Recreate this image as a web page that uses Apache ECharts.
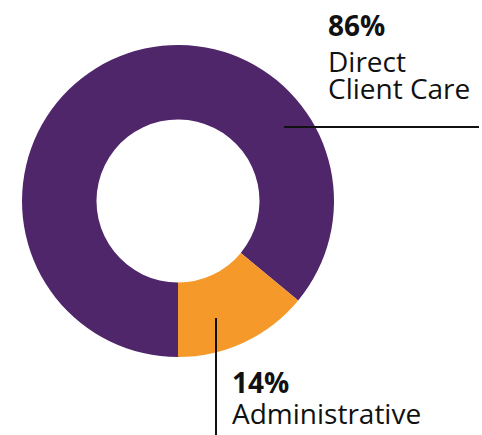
<!DOCTYPE html>
<html>
<head>
<meta charset="utf-8">
<style>
  html, body { margin: 0; padding: 0; background: #fff; }
  #chart { width: 482px; height: 435px; }
</style>
<script src="https://cdn.jsdelivr.net/npm/echarts@6/dist/echarts.min.js"></script>
</head>
<body>
<div id="chart"></div>
<script>
// 数据：两类工作时间占比
const categories = ['Direct\nClient Care', 'Administrative'];
const shares = [86, 14];
const colors = ['#50266a', '#f6992b'];

// 标注位置（标签左上角 + 引线三点）
const labelSpots = [
  { x: 328, y: 2, line: [[284, 127], [380, 127], [479, 127]] },
  { x: 232, y: 364, line: [[216, 318], [216, 380], [216, 436]] }
];

const chart = echarts.init(document.getElementById('chart'), null, { renderer: 'svg' });

const pieBase = {
  type: 'pie',
  center: [178, 201],
  radius: [81.5, 156],
  startAngle: 270,
  clockwise: true,
  avoidLabelOverlap: false,
  emphasis: { disabled: true },
  silent: true
};

chart.setOption({
  backgroundColor: '#fff',
  animation: false,
  series: [
    // 色块
    Object.assign({}, pieBase, {
      z: 2,
      label: { show: false },
      labelLine: { show: false },
      data: categories.map((name, i) => ({ name: name, value: shares[i], itemStyle: { color: colors[i] } }))
    }),
    // 透明覆盖层：只画标签和引线，保证引线压在色块上方
    Object.assign({}, pieBase, {
      z: 3,
      label: {
        show: true,
        position: 'outside',
        formatter: (p) => `{${p.dataIndex === 0 ? 'pa' : 'pb'}|${p.value}%}\n{n|${p.name}}`,
        color: '#111',
        fontFamily: 'Open Sans',
        rich: {
          pa: { fontSize: 28, fontWeight: 'bold', lineHeight: 45, fontFamily: 'Open Sans', color: '#111' },
          pb: { fontSize: 28, fontWeight: 'bold', lineHeight: 35, fontFamily: 'Open Sans', color: '#111' },
          n: { fontSize: 28, lineHeight: 27, fontFamily: 'Open Sans', color: '#111' }
        }
      },
      labelLine: { show: true, smooth: false, lineStyle: { color: '#111', width: 2 } },
      labelLayout: (params) => {
        const s = labelSpots[params.dataIndex];
        return { x: s.x, y: s.y, align: 'left', verticalAlign: 'top', labelLinePoints: s.line };
      },
      itemStyle: { color: 'rgba(0,0,0,0)' },
      data: categories.map((name, i) => ({ name: name, value: shares[i] }))
    })
  ]
});
</script>
</body>
</html>
